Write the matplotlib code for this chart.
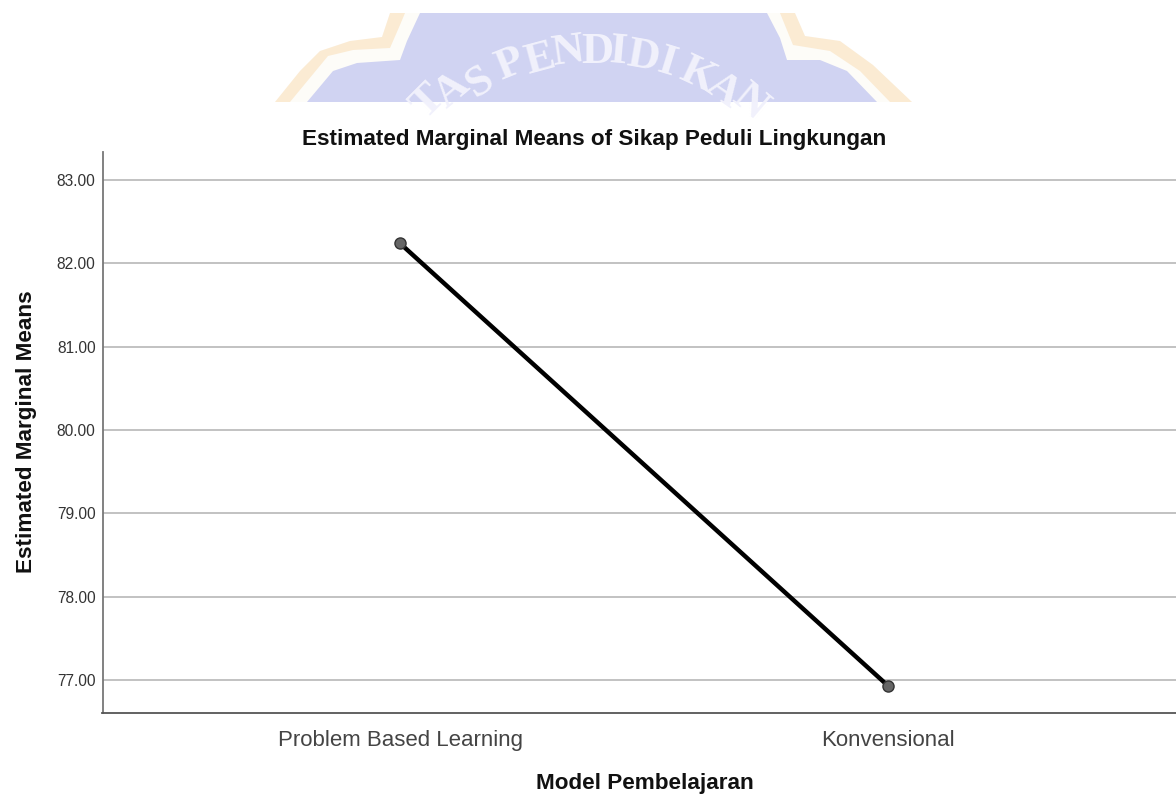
"""
Estimated Marginal Means - Sikap Peduli Lingkungan
"""
import numpy as np
import matplotlib
matplotlib.use('Agg')
import matplotlib.pyplot as plt
from matplotlib.patches import Polygon, Rectangle

plt.rcParams['font.family'] = ['Liberation Sans', 'DejaVu Sans']

categorias = ['Problem Based Learning', 'Konvensional']
medias = [82.24, 76.93]
y_ticks = [77, 78, 79, 80, 81, 82, 83]

ANCHO, ALTO = 1176, 796

# contorno del sello de fondo (pixeles de la imagen)
sello_naranja = [(390, 13), (382, 37), (350, 41), (320, 51), (300, 71), (275, 102),
                 (912, 102), (873, 65), (840, 41), (805, 36), (795, 13)]
sello_blanco = [(405, 13), (400, 25), (390, 48), (353, 50), (328, 56), (290, 102),
                (890, 102), (860, 71), (830, 51), (793, 45), (780, 13)]
sello_azul = [(420, 13), (407, 41), (400, 60), (357, 63), (333, 71), (307, 102),
              (877, 102), (847, 71), (820, 60), (787, 60), (780, 38), (767, 13)]
letras = 'TASPENDIDIKAN'
letras_x = [428, 452, 480, 510, 540, 568, 597, 618, 643, 667, 698, 723, 750]
letras_y = [102, 90, 82, 65, 60, 52, 52, 52, 57, 63, 75, 90, 102]
letras_rot = [45, 40, 33, 22, 15, 8, 0, -5, -10, -17, -25, -35, -40]

fig = plt.figure(figsize=(ANCHO / 100, ALTO / 100), dpi=100, facecolor='white')

# Sello de la universidad detras del grafico
bg = fig.add_axes([0, 0, 1, 1])
bg.set_xlim(0, ANCHO)
bg.set_ylim(ALTO, 0)
bg.axis('off')
recorte = Rectangle((0, 13), ANCHO, 89, transform=bg.transData)
bg.add_patch(Polygon(sello_naranja, closed=True, fc='#fbebd3', ec='none'))
bg.add_patch(Polygon(sello_blanco, closed=True, fc='#fdfcf8', ec='none'))
bg.add_patch(Polygon(sello_azul, closed=True, fc='#d0d3f2', ec='none'))
for letra, lx, ly, rot in zip(letras, letras_x, letras_y, letras_rot):
    t = bg.text(lx, ly, letra, fontsize=32, family='Liberation Serif', fontweight='bold',
                color='#f1f1fc', rotation=rot, ha='center', va='center')
    t.set_clip_path(recorte)

# Grafico principal
izq, der, arriba, abajo = 102.5, 1176, 152, 713
ax = fig.add_axes([izq / ANCHO, 1 - abajo / ALTO, (der - izq) / ANCHO, (abajo - arriba) / ALTO])
ax.patch.set_alpha(0)
x = np.arange(len(categorias))
ax.set_xlim(-0.6096, 1.59)
ax.set_ylim(76.604, 83.336)

ax.set_yticks(y_ticks)
ax.set_yticklabels([f'{v:.2f}' for v in y_ticks], fontsize=11.2, color='#333333')
ax.set_xticks(x)
ax.set_xticklabels(categorias, fontsize=16, color='#444444')
ax.tick_params(axis='both', length=0)
ax.tick_params(axis='y', pad=5)
ax.tick_params(axis='x', pad=12)
ax.grid(True, axis='y', color='#bdbdbd', linewidth=1.3)
ax.set_axisbelow(True)

for lado in ['top', 'right']:
    ax.spines[lado].set_visible(False)
ax.spines['left'].set_color('#777777')
ax.spines['left'].set_linewidth(1.3)
ax.spines['bottom'].set_color('#555555')
ax.spines['bottom'].set_linewidth(1.3)

ax.plot(x, medias, color='black', linewidth=3.2, solid_capstyle='round', zorder=3)
ax.plot(x, medias, linestyle='none', marker='o', markersize=8, markerfacecolor='#666666',
        markeredgecolor='#333333', markeredgewidth=1, zorder=4)

fig.text(594 / ANCHO, 1 - 140 / ALTO, 'Estimated Marginal Means of Sikap Peduli Lingkungan',
         fontsize=16.2, fontweight='bold', ha='center', va='center', color='#111111')
fig.text(645 / ANCHO, 1 - 784 / ALTO, 'Model Pembelajaran',
         fontsize=16.2, fontweight='bold', ha='center', va='center', color='#111111')
fig.text(27 / ANCHO, 1 - 432 / ALTO, 'Estimated Marginal Means', rotation=90,
         fontsize=16.2, fontweight='bold', ha='center', va='center', color='#111111')

fig.savefig('out.png', dpi=100)
